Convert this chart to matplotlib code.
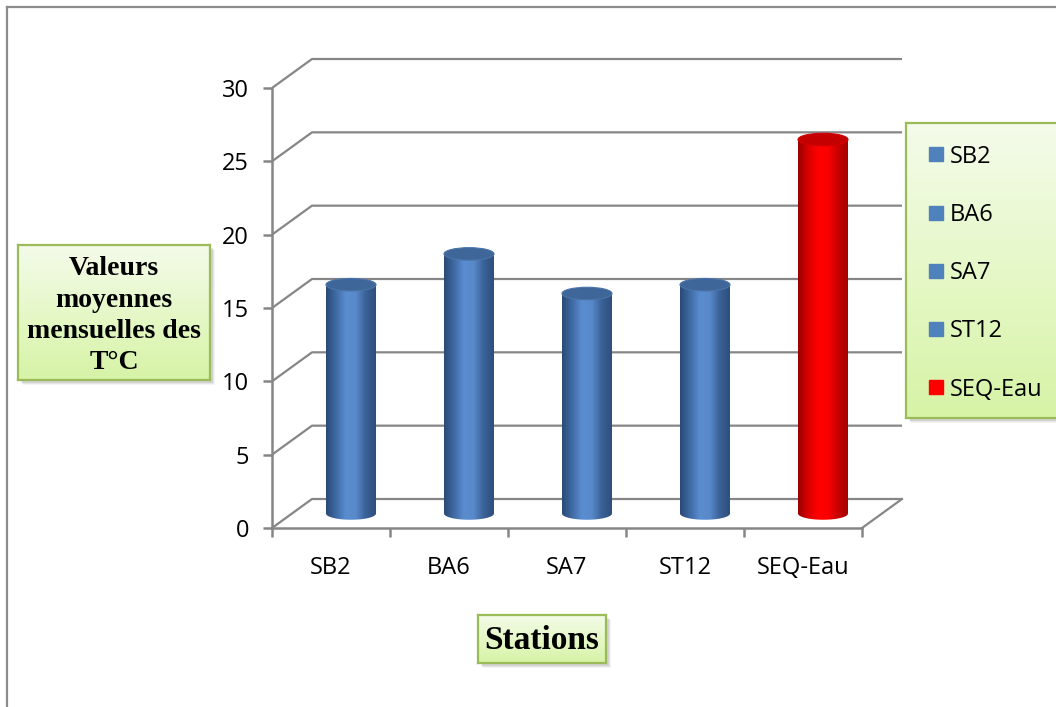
import numpy as np
import matplotlib
matplotlib.use("Agg")
import matplotlib.pyplot as plt
from matplotlib.patches import Ellipse, Polygon, Rectangle
from matplotlib.lines import Line2D
from matplotlib.colors import LinearSegmentedColormap

plt.rcParams["font.family"] = ["Open Sans", "DejaVu Sans"]

# monthly mean water temperature per station
stations = ["SB2", "BA6", "SA7", "ST12", "SEQ-Eau"]
temperatures = [15.6, 17.7, 15.0, 15.6, 25.5]
y_ticks = [0, 5, 10, 15, 20, 25, 30]
highlight = "SEQ-Eau"

W, H = 1056, 707
GRID = "#868686"
BOX_EDGE = "#9bbb59"

fig = plt.figure(figsize=(W / 100, H / 100), dpi=100)
fig.patch.set_facecolor("white")


def px_axes(x0, y0, x1, y1, **kw):
    return fig.add_axes([x0 / W, 1 - y1 / H, (x1 - x0) / W, (y1 - y0) / H], **kw)


# --- main 3d-looking plot area -------------------------------------------
px_per_cat = 118.0
px_per_deg = 440.0 / 30
xmax, ymax = 5.4, 32.2
ax = px_axes(272, 528 - ymax * px_per_deg, 272 + xmax * px_per_cat, 528)
ax.set_xlim(0, xmax)
ax.set_ylim(0, ymax)
ax.patch.set_alpha(0)

DX = 40 / px_per_cat  # depth offset of the back wall
DY = 29 / px_per_deg
n = len(stations)

for v in y_ticks:
    ax.plot([0, DX, n + DX], [v, v + DY, v + DY], color=GRID, lw=1.6,
            solid_capstyle="butt", zorder=1)
ax.plot([n, n + DX], [0, DY], color=GRID, lw=1.6, zorder=1)

for s in ("top", "right"):
    ax.spines[s].set_visible(False)
for s in ("left", "bottom"):
    ax.spines[s].set_color(GRID)
    ax.spines[s].set_linewidth(1.8)
ax.spines["left"].set_bounds(0, 30)
ax.spines["bottom"].set_bounds(0, n)

ax.set_yticks(y_ticks)
ax.set_yticklabels([str(t) for t in y_ticks])
ax.set_xticks(range(n + 1))
ax.set_xticklabels([""] * (n + 1))
ax.set_xticks(np.arange(n) + 0.5, minor=True)
ax.set_xticklabels(stations, minor=True)
ax.tick_params(axis="both", which="major", color=GRID, width=1.8, length=6.5,
               labelsize=17)
ax.tick_params(axis="y", pad=10)
ax.tick_params(axis="x", which="minor", length=0, labelsize=17, pad=20)

blue_body = LinearSegmentedColormap.from_list(
    "blue_body", ["#2b4a75", "#3f6aa3", "#5a8dd0", "#5889c9", "#3a6196", "#2e4f7d"])
red_body = LinearSegmentedColormap.from_list(
    "red_body", ["#9a0000", "#d80000", "#ff0000", "#fb0000", "#c80000", "#a50000"])

bar_w = 50 / px_per_cat
ell_h = 12.5 / px_per_deg
grad = np.linspace(0, 1, 256)[None, :]
for i, (name, val) in enumerate(zip(stations, temperatures)):
    cx = i + 0.5 + DX / 2
    base = DY / 2
    top = val + DY / 2
    if name == highlight:
        cmap, top_c, top_e = red_body, "#c40000", "#d00000"
    else:
        cmap, top_c, top_e = blue_body, "#3e6698", "#4a74a8"
    t = np.linspace(np.pi, 2 * np.pi, 60)
    pts = np.column_stack([cx + bar_w / 2 * np.cos(t), base + ell_h / 2 * np.sin(t)])
    pts = np.vstack([pts, [[cx + bar_w / 2, top], [cx - bar_w / 2, top]]])
    outline = Polygon(pts, closed=True, transform=ax.transData, facecolor="none",
                      edgecolor="none")
    ax.add_patch(outline)
    im = ax.imshow(grad, cmap=cmap, aspect="auto", interpolation="bilinear",
                   extent=[cx - bar_w / 2, cx + bar_w / 2, base - ell_h / 2, top],
                   zorder=3)
    im.set_clip_path(outline)
    ax.add_patch(Ellipse((cx, top), bar_w, ell_h, facecolor=top_c, edgecolor=top_e,
                         lw=0.8, zorder=4))

ax.set_xlim(0, xmax)
ax.set_ylim(0, ymax)

# --- green boxes ------------------------------------------------------------
green = LinearSegmentedColormap.from_list("green_box", ["#f4fbea", "#e6f8c8", "#d6f3a6"])


def green_box(x0, y0, x1, y1):
    for k, a in ((5, 0.08), (4, 0.12), (3, 0.18)):
        fig.add_artist(Rectangle(((x0 + k) / W, 1 - (y1 + k) / H),
                                 (x1 - x0) / W, (y1 - y0) / H,
                                 transform=fig.transFigure, facecolor="#7f7f7f",
                                 edgecolor="none", alpha=a, zorder=-5))
    bx = px_axes(x0, y0, x1, y1, zorder=5)
    bx.imshow(np.linspace(0, 1, 256)[:, None], cmap=green, aspect="auto",
              extent=[0, 1, 0, 1])
    bx.set_xlim(0, 1)
    bx.set_ylim(0, 1)
    bx.set_xticks([])
    bx.set_yticks([])
    for s in bx.spines.values():
        s.set_color(BOX_EDGE)
        s.set_linewidth(1.6)
    return bx


ybox = green_box(18, 245, 210, 380)
ybox.text(0.5, 0.475, "Valeurs\nmoyennes\nmensuelles des\nT°C", ha="center",
          va="center", fontsize=20, fontweight="bold", family="Liberation Serif",
          linespacing=1.33, transform=ybox.transAxes)

xbox = green_box(478, 615, 606, 663)
xbox.text(0.5, 0.47, "Stations", ha="center", va="center", fontsize=24,
          fontweight="bold", family="Liberation Serif", transform=xbox.transAxes)

lbox = green_box(906, 123, 1062, 418)
handles = []
for name in stations:
    c = "#ff0000" if name == highlight else "#4f81bd"
    handles.append(Line2D([], [], marker="s", ls="", color=c, markersize=9.5))
lbox.legend(handles, stations, loc="upper left", bbox_to_anchor=(0.0, 1.0),
            frameon=False, fontsize=17, labelspacing=1.45, handlelength=0.7,
            handletextpad=0.25, borderaxespad=0.42, borderpad=0.5)

# outer chart frame
fig.add_artist(Line2D([7 / W, 7 / W], [0, 1 - 7 / H], transform=fig.transFigure,
                      color="#8c8c8c", lw=1.6))
fig.add_artist(Line2D([7 / W, 1], [1 - 7 / H, 1 - 7 / H], transform=fig.transFigure,
                      color="#8c8c8c", lw=1.6))

fig.savefig("out.png", dpi=100)
